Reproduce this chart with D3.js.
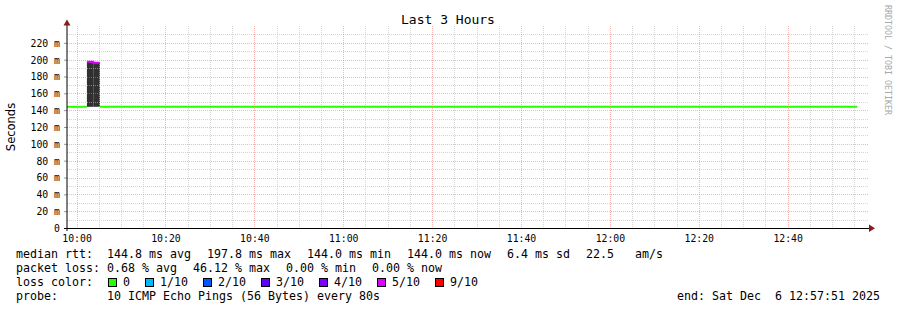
<!DOCTYPE html>
<html><head><meta charset="utf-8">
<script src="https://cdn.jsdelivr.net/npm/d3@7"></script>
<style>
html,body{margin:0;padding:0;background:#fff;}
svg{display:block;}
svg{font-family:"DejaVu Sans Mono",monospace;}
</style></head><body>
<svg id="chart" width="897" height="310"></svg>
<script>
// ---------- data ----------
const startTime = "2025-12-06 09:57:51";
const endTime = "2025-12-06 12:57:51";
const yMax = 240;
const yTickValues = [0, 20, 40, 60, 80, 100, 120, 140, 160, 180, 200, 220];
const segStart = ["09:57:51", "10:02:20", "10:03:45", "10:05:15"];
const segEnd   = ["10:02:20", "10:03:45", "10:05:15", "12:55:40"];
const medianMs = [144.0, 197.4, 196.2, 144.0];
const smokeLowMs  = [null, 144.0, 144.0, null];
const smokeHighMs = [null, 197.0, 196.0, null];
const lossTenths  = [0, 5, 5, 0];
const lossLevels  = [0, 1, 2, 3, 4, 5, 9];
const lossLabels  = ["0", "1/10", "2/10", "3/10", "4/10", "5/10", "9/10"];
const lossColors  = ["#26ff00", "#00b8ff", "#0059ff", "#5e00ff", "#7e00ff", "#dd00ff", "#ff0000"];
const titleText = "Last 3 Hours";
const yLabel = "Seconds";
const rttLabel = "median rtt:";
const rttItems = ["144.8 ms avg", "197.8 ms max", "144.0 ms min", "144.0 ms now", "6.4 ms sd", "22.5   am/s"];
const lossLabel = "packet loss:";
const lossItems = ["0.68 % avg", "46.12 % max", "0.00 % min", "0.00 % now"];
const colorLabel = "loss color:";
const probeLabel = "probe:";
const probeText = "10 ICMP Echo Pings (56 Bytes) every 80s";
const endText = "end: Sat Dec  6 12:57:51 2025";
const watermark = "RRDTOOL / TOBI OETIKER";

// ---------- setup ----------
(function () {
const svg = d3.select("#chart");
const parseFull = d3.timeParse("%Y-%m-%d %H:%M:%S");
const day = "2025-12-06 ";
const pt = s => parseFull(day + s);

const pL = 67, pR = 867, pB = 228, pT = 26;
const x = d3.scaleTime().domain([parseFull(startTime), parseFull(endTime)]).range([pL, pR]);
const y = d3.scaleLinear().domain([0, yMax]).range([pB, pT]);

svg.append("rect").attr("width", 897).attr("height", 310).attr("fill", "#fff");

const segs = segStart.map((s, i) => ({
  t0: pt(s), t1: pt(segEnd[i]), med: medianMs[i],
  lo: smokeLowMs[i], hi: smokeHighMs[i], loss: lossTenths[i]
}));

// smoke
svg.append("g").selectAll("rect").data(segs.filter(d => d.lo != null)).join("rect")
  .attr("x", d => x(d.t0)).attr("width", d => x(d.t1) - x(d.t0))
  .attr("y", d => y(d.hi)).attr("height", d => y(d.lo) - y(d.hi))
  .attr("fill", "#303030");

// grid
const grid = svg.append("g");
const minorY = d3.range(10, yMax, 10).filter(v => v % 20 !== 0);
const majorY = d3.range(20, yMax, 20);
const gx1 = pL, gx2 = 869;
const minorCol = "rgba(185,185,185,0.6)", majorCol = "rgba(240,120,120,0.55)";
grid.selectAll(".hmin").data(minorY).join("line")
  .attr("x1", gx1).attr("x2", gx2)
  .attr("y1", d => Math.round(y(d)) + 0.5).attr("y2", d => Math.round(y(d)) + 0.5)
  .attr("stroke", minorCol).attr("stroke-dasharray", "1,1");
grid.selectAll(".hmaj").data(majorY).join("line")
  .attr("x1", gx1).attr("x2", gx2)
  .attr("y1", d => Math.round(y(d)) + 0.5).attr("y2", d => Math.round(y(d)) + 0.5)
  .attr("stroke", majorCol).attr("stroke-dasharray", "1,1");
const minorX = d3.timeMinute.every(5).range(x.domain()[0], x.domain()[1]).filter(d => d.getMinutes() % 20 !== 0);
const majorX = d3.timeMinute.every(20).range(x.domain()[0], x.domain()[1]);
grid.selectAll(".vmin").data(minorX).join("line")
  .attr("x1", d => Math.round(x(d)) + 0.5).attr("x2", d => Math.round(x(d)) + 0.5)
  .attr("y1", pT).attr("y2", pB)
  .attr("stroke", minorCol).attr("stroke-dasharray", "1,1");
grid.selectAll(".vmaj").data(majorX).join("line")
  .attr("x1", d => Math.round(x(d)) + 0.5).attr("x2", d => Math.round(x(d)) + 0.5)
  .attr("y1", pT).attr("y2", pB)
  .attr("stroke", majorCol).attr("stroke-dasharray", "1,1");

// median line per loss color
const colorOf = l => lossColors[lossLevels.indexOf(l)];
let runs = [];
segs.forEach(d => {
  const last = runs[runs.length - 1];
  if (last && last.loss === d.loss) last.pts.push(d); else runs.push({loss: d.loss, pts: [d]});
});
const line = d3.line().curve(d3.curveStepAfter).x(d => x(d.t)).y(d => y(d.v));
runs.forEach(r => {
  const pts = r.pts.map(d => ({t: d.t0, v: d.med}));
  pts.push({t: r.pts[r.pts.length - 1].t1, v: r.pts[r.pts.length - 1].med});
  svg.append("path").attr("d", line(pts)).attr("fill", "none")
    .attr("stroke", colorOf(r.loss)).attr("stroke-width", 2);
});

// axes
const yAxis = d3.axisLeft(y).tickValues(yTickValues)
  .tickFormat(v => v === 0 ? "0" : v + " m").tickSize(3).tickPadding(4);
const ya = svg.append("g").attr("transform", `translate(${pL},0)`).call(yAxis);
ya.select(".domain").remove();
ya.selectAll("line").attr("stroke", "#999");
ya.selectAll("text").style("font-family", "'DejaVu Sans Mono', monospace").style("font-size", "9.8px").attr("fill", "#000")
  .attr("dy", "0.35em");

const xAxis = d3.axisBottom(x).ticks(d3.timeMinute.every(20))
  .tickFormat(d3.timeFormat("%H:%M")).tickSize(0).tickPadding(7);
const xa = svg.append("g").attr("transform", `translate(0,${pB})`).call(xAxis);
xa.select(".domain").remove();
xa.selectAll("text").style("font-family", "'DejaVu Sans Mono', monospace").style("font-size", "9.8px").attr("fill", "#000");

// axis lines
svg.append("line").attr("x1", pL).attr("x2", pL).attr("y1", 231).attr("y2", 22)
  .attr("stroke", "#000").attr("stroke-width", 1);
svg.append("line").attr("x1", 64).attr("x2", 870).attr("y1", pB + 0.5).attr("y2", pB + 0.5)
  .attr("stroke", "#000");
svg.append("path").attr("d", "M63.5,25.5 L70.5,25.5 L67,19.5 Z").attr("fill", "#8b1a1a");
svg.append("path").attr("d", "M869,224.5 L869,232 L875,228.25 Z").attr("fill", "#8b1a1a");

// titles
svg.append("text").attr("x", 448).attr("y", 24).attr("text-anchor", "middle")
  .style("font-family", "'DejaVu Sans Mono', monospace").style("font-size", "13px").attr("fill", "#000").text(titleText);
svg.append("text").attr("transform", "translate(15,127) rotate(-90)").attr("text-anchor", "middle")
  .style("font-family", "'DejaVu Sans', sans-serif").style("font-size", "11.5px").attr("fill", "#000").text(yLabel);
svg.append("text").attr("transform", "translate(884.5,5) rotate(90)")
  .style("font-family", "'DejaVu Sans Mono', monospace").style("font-size", "8.3px").attr("fill", "#a8a8a8").text(watermark);

// legend
const lg = svg.append("g").style("font-family", "'DejaVu Sans Mono', monospace").style("font-size", "11.63px").attr("fill", "#000");
function row(label, items, yb, gap) {
  lg.append("text").attr("x", 16).attr("y", yb).text(label);
  let xx = 107;
  items.forEach(s => {
    const t = lg.append("text").attr("x", xx).attr("y", yb).style("white-space", "pre").text(s);
    xx += t.node().getComputedTextLength() + gap;
  });
}
row(rttLabel, rttItems, 258, 16);
row(lossLabel, lossItems, 272, 16);
lg.append("text").attr("x", 16).attr("y", 286).text(colorLabel);
let bx = 108;
lossLabels.forEach((l, i) => {
  lg.append("rect").attr("x", bx + 0.5).attr("y", 278.5).attr("width", 8).attr("height", 8)
    .attr("fill", lossColors[i]).attr("stroke", "#000");
  const t = lg.append("text").attr("x", bx + 15).attr("y", 286).text(l);
  bx += 15 + t.node().getComputedTextLength() + 15;
});
lg.append("text").attr("x", 16).attr("y", 300).text(probeLabel);
lg.append("text").attr("x", 107).attr("y", 300).text(probeText);
lg.append("text").attr("x", 880).attr("y", 300).attr("text-anchor", "end").style("white-space", "pre").text(endText);
})();
</script>
</body></html>
